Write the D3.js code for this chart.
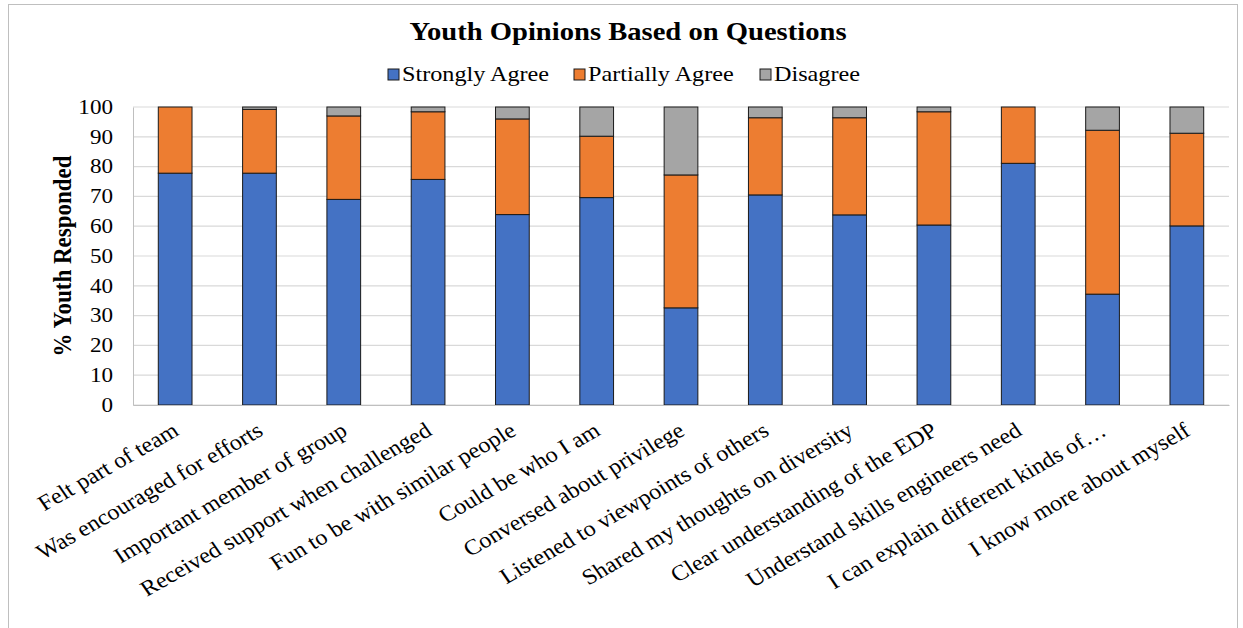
<!DOCTYPE html>
<html>
  <head>
    <title>Youth Opinions</title>
    <script src="https://cdn.jsdelivr.net/npm/d3@7"></script>
    <style>
      body { margin: 0; background: #fff; }
    </style>
  </head>
  <body>
    <script>
// data
const questions = [
  "Felt part of team",
  "Was encouraged for efforts",
  "Important member of group",
  "Received support when challenged",
  "Fun to be with similar people",
  "Could be who I am",
  "Conversed about privilege",
  "Listened to viewpoints of others",
  "Shared my thoughts on diversity",
  "Clear understanding of the EDP",
  "Understand skills engineers need",
  "I can explain different kinds of…",
  "I know more about myself"
];
const stronglyAgree  = [77.8, 77.8, 69.0, 75.7, 63.9, 69.6, 32.6, 70.5, 63.8, 60.4, 81.1, 37.2, 60.1];
const partiallyAgree = [22.2, 21.4, 28.0, 22.7, 32.1, 20.6, 44.6, 25.9, 32.6, 38.0, 18.9, 55.0, 31.1];
const disagree       = [0.0, 0.8, 3.0, 1.6, 4.0, 9.8, 22.8, 3.6, 3.6, 1.6, 0.0, 7.8, 8.8];
const seriesNames = ["Strongly Agree", "Partially Agree", "Disagree"];
const colors = ["#4472c4", "#ed7d31", "#a5a5a5"];
const yTicks = [0, 10, 20, 30, 40, 50, 60, 70, 80, 90, 100];

const w = 1243;
const h = 628;
const plotLeft = 133, plotRight = 1229, plotTop = 107, plotBottom = 405;
const serif = "'Liberation Serif', 'Times New Roman', serif";
const stretch = 1.1; // the picture's text is a bit wider than normal

const svg = d3.select("body").append("svg")
  .attr("width", w)
  .attr("height", h);

// chart border
svg.append("rect")
  .attr("x", 8.5).attr("y", 4.5)
  .attr("width", 1229).attr("height", 640)
  .attr("fill", "none")
  .attr("stroke", "#bfbfbf");

// build table for the stack
const table = questions.map(function(q, i) {
  return { q: q, "Strongly Agree": stronglyAgree[i], "Partially Agree": partiallyAgree[i], "Disagree": disagree[i] };
});
const stacked = d3.stack().keys(seriesNames)(table);

let x = d3.scaleBand()
  .domain(questions)
  .range([plotLeft, plotRight])
  .paddingInner(0.6)
  .paddingOuter(0.3);

let y = d3.scaleLinear()
  .domain([0, 100])
  .range([plotBottom, plotTop]);

// gridlines
svg.append("g")
  .selectAll("line")
  .data(yTicks)
  .enter()
  .append("line")
  .attr("x1", plotLeft).attr("x2", plotRight)
  .attr("y1", function(d) { return y(d); })
  .attr("y2", function(d) { return y(d); })
  .attr("stroke", "#d9d9d9")
  .attr("stroke-width", 1.2);

// y axis
const yAxis = d3.axisLeft(y).tickValues(yTicks).tickSize(0);
const gy = svg.append("g")
  .attr("transform", "translate(" + plotLeft + ",0)")
  .call(yAxis)
  .attr("font-family", serif)
  .attr("font-size", 21);
gy.select(".domain").attr("stroke", "#bfbfbf");
gy.selectAll("text")
  .attr("fill", "#000")
  .attr("x", -20 / stretch)
  .attr("dy", "0.3em")
  .attr("transform", "scale(" + stretch + ",1)");

// bars
svg.append("g")
  .selectAll("g")
  .data(stacked)
  .enter()
  .append("g")
  .attr("fill", function(d, i) { return colors[i]; })
  .selectAll("rect")
  .data(function(d) { return d; })
  .enter()
  .append("rect")
  .attr("x", function(d) { return x(d.data.q); })
  .attr("y", function(d) { return y(d[1]); })
  .attr("width", x.bandwidth())
  .attr("height", function(d) { return y(d[0]) - y(d[1]); })
  .attr("stroke", "#1a1a1a")
  .attr("stroke-width", function(d) { return d[1] - d[0] > 0 ? 1 : 0; });

// x axis
const xAxis = d3.axisBottom(x).tickSize(0);
const gx = svg.append("g")
  .attr("transform", "translate(0," + plotBottom + ")")
  .call(xAxis)
  .attr("font-family", serif)
  .attr("font-size", 22);
gx.select(".domain").attr("stroke", "#bfbfbf").attr("stroke-width", 1.2);
gx.selectAll("text")
  .attr("fill", "#000")
  .attr("text-anchor", "end")
  .attr("x", 0).attr("y", 0)
  .attr("dy", "0.71em")
  .attr("transform", "translate(-4,16) scale(" + stretch + ",1) rotate(-32)");

// title
svg.append("text")
  .attr("transform", "translate(628,40) scale(" + stretch + ",1)")
  .attr("text-anchor", "middle")
  .attr("font-family", serif)
  .attr("font-size", 26)
  .attr("font-weight", "bold")
  .text("Youth Opinions Based on Questions");

// y label
svg.append("text")
  .attr("transform", "translate(71," + ((plotTop + plotBottom) / 2) + ") scale(" + stretch + ",1) rotate(-90)")
  .attr("text-anchor", "middle")
  .attr("font-family", serif)
  .attr("font-size", 23)
  .attr("font-weight", "bold")
  .text("% Youth Responded");

// legend
const legendX = [388, 574, 760];
const legend = svg.append("g")
  .selectAll("g")
  .data(seriesNames)
  .enter()
  .append("g")
  .attr("transform", function(d, i) { return "translate(" + legendX[i] + ",69)"; });
legend.append("rect")
  .attr("width", 11).attr("height", 11)
  .attr("fill", function(d, i) { return colors[i]; })
  .attr("stroke", "#1a1a1a");
legend.append("text")
  .attr("transform", "translate(14,12) scale(" + stretch + ",1)")
  .attr("font-family", serif)
  .attr("font-size", 22)
  .text(function(d) { return d; });
    </script>
  </body>
</html>
